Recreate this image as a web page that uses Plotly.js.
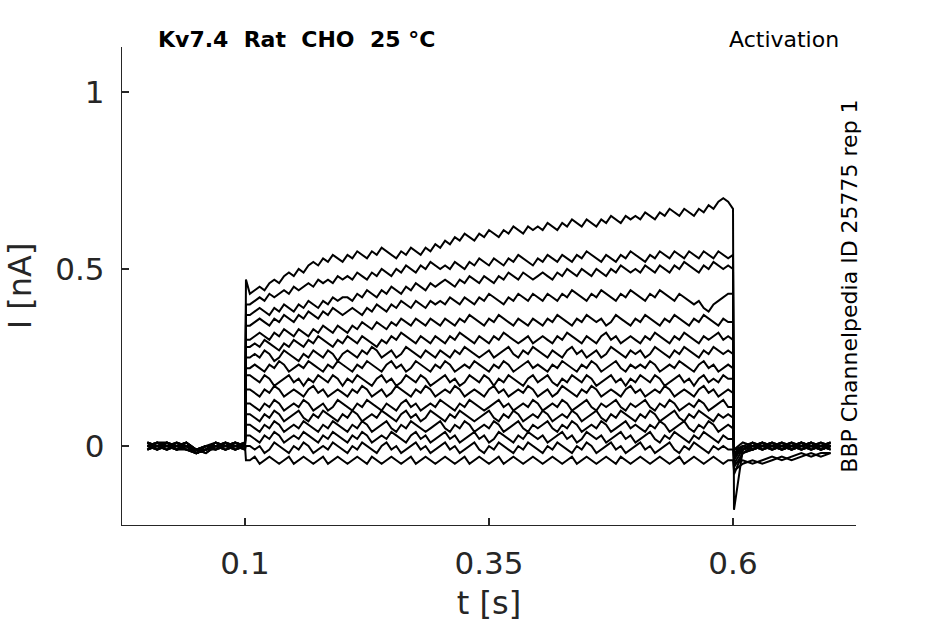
<!DOCTYPE html>
<html>
<head>
<meta charset="utf-8">
<script src="https://cdn.plot.ly/plotly-3.0.1.min.js"></script>
<style>html,body{margin:0;padding:0;background:#fff;}#chart{width:945px;height:624px;}</style>
</head>
<body>
<div id="chart"></div>
<script>
// time samples (s)
const tPre = [0.00,0.01,0.02,0.03,0.04,0.05,0.06,0.07,0.08,0.09,0.10];
const tOn = 0.101;
const tStep = [
  0.105,0.110,0.115,0.120,0.125,0.130,0.135,0.140,0.145,0.150,0.155,0.160,0.165,0.170,0.175,0.180,0.185,0.190,0.195,0.200,
  0.205,0.210,0.215,0.220,0.225,0.230,0.235,0.240,0.245,0.250,0.255,0.260,0.265,0.270,0.275,0.280,0.285,0.290,0.295,0.300,
  0.305,0.310,0.315,0.320,0.325,0.330,0.335,0.340,0.345,0.350,0.355,0.360,0.365,0.370,0.375,0.380,0.385,0.390,0.395,0.400,
  0.405,0.410,0.415,0.420,0.425,0.430,0.435,0.440,0.445,0.450,0.455,0.460,0.465,0.470,0.475,0.480,0.485,0.490,0.495,0.500,
  0.505,0.510,0.515,0.520,0.525,0.530,0.535,0.540,0.545,0.550,0.555,0.560,0.565,0.570,0.575,0.580,0.585,0.590,0.595];
const tOff = 0.60;
const tOffNext = 0.601;
const tTail = [0.61,0.62,0.63,0.64,0.65,0.66,0.67,0.68,0.69,0.70];

// current (nA) before the step
const preStep = [
  [0.00,0.01,0.00,-0.01,0.00,-0.02,-0.01,0.00,0.01,0.00,0.00],
  [0.01,0.00,-0.01,0.00,0.01,-0.01,0.00,-0.01,0.00,0.01,0.00],
  [-0.01,0.00,0.01,0.00,-0.01,-0.02,-0.01,0.01,0.00,-0.01,0.00],
  [0.00,-0.01,0.00,0.01,0.00,-0.02,0.00,0.00,-0.01,0.00,0.01],
  [0.01,0.00,0.00,-0.01,0.00,-0.01,-0.02,0.00,0.01,0.00,0.00],
  [0.00,0.00,0.01,0.00,-0.01,-0.02,-0.01,-0.01,0.00,0.01,0.00],
  [-0.01,0.01,0.00,0.00,0.01,-0.01,0.00,0.00,-0.01,0.00,0.00],
  [0.00,-0.01,0.01,0.00,0.00,-0.02,-0.01,0.01,0.00,0.00,-0.01],
  [0.01,0.00,-0.01,0.01,0.00,-0.01,0.00,0.00,0.01,-0.01,0.00],
  [0.00,0.01,0.00,-0.01,-0.01,-0.02,-0.01,0.00,0.00,0.01,0.00],
  [-0.01,0.00,0.00,0.01,0.00,-0.01,-0.01,0.01,0.00,0.00,0.01],
  [0.00,0.00,-0.01,0.00,0.01,-0.02,0.00,-0.01,0.01,0.00,0.00],
  [0.01,-0.01,0.00,0.00,-0.01,-0.01,-0.02,0.00,0.00,-0.01,0.00],
  [0.00,0.01,0.01,-0.01,0.00,-0.02,-0.01,0.00,-0.01,0.00,0.00],
  [-0.01,0.00,0.00,0.00,0.01,-0.01,0.00,0.01,0.00,0.00,-0.01],
  [0.00,0.00,0.01,-0.01,0.00,-0.02,-0.01,0.00,0.00,0.01,0.00]
];

// current at step onset (t = 0.101)
const onset = [0.47,0.40,0.37,0.34,0.30,0.28,0.25,0.22,0.20,0.16,0.12,0.09,0.06,0.03,0.00,-0.04];

// current during the step (t = 0.105 .. 0.595)
const stepVals = [
  [0.43,0.44,0.45,0.44,0.46,0.47,0.46,0.48,0.49,0.48,0.50,0.49,0.51,0.52,0.51,0.53,0.52,0.54,0.53,0.52,
   0.54,0.53,0.55,0.54,0.53,0.55,0.54,0.56,0.55,0.54,0.53,0.55,0.54,0.56,0.55,0.54,0.56,0.55,0.57,0.56,
   0.58,0.57,0.59,0.58,0.60,0.59,0.58,0.60,0.59,0.61,0.60,0.59,0.61,0.60,0.62,0.61,0.60,0.62,0.61,0.62,
   0.61,0.63,0.62,0.61,0.63,0.62,0.64,0.63,0.62,0.64,0.63,0.62,0.64,0.63,0.65,0.64,0.63,0.65,0.64,0.65,
   0.64,0.66,0.65,0.64,0.66,0.65,0.67,0.66,0.65,0.67,0.66,0.65,0.67,0.66,0.68,0.67,0.69,0.70,0.69],
  [0.40,0.41,0.42,0.41,0.43,0.42,0.43,0.44,0.43,0.45,0.44,0.45,0.46,0.45,0.47,0.46,0.47,0.46,0.48,0.47,
   0.48,0.47,0.49,0.48,0.47,0.49,0.48,0.50,0.49,0.48,0.50,0.49,0.51,0.50,0.49,0.51,0.50,0.52,0.51,0.50,
   0.51,0.50,0.52,0.51,0.50,0.52,0.51,0.53,0.52,0.51,0.53,0.52,0.51,0.53,0.52,0.54,0.53,0.52,0.51,0.53,
   0.52,0.54,0.53,0.52,0.54,0.53,0.52,0.54,0.53,0.55,0.54,0.53,0.52,0.54,0.53,0.52,0.54,0.53,0.55,0.54,
   0.53,0.52,0.54,0.53,0.55,0.54,0.53,0.55,0.54,0.53,0.55,0.54,0.53,0.55,0.54,0.53,0.55,0.54,0.53],
  [0.37,0.38,0.39,0.38,0.37,0.39,0.38,0.40,0.39,0.38,0.40,0.39,0.41,0.40,0.39,0.41,0.40,0.42,0.41,0.42,
   0.42,0.41,0.43,0.42,0.44,0.43,0.42,0.44,0.43,0.45,0.44,0.43,0.45,0.44,0.46,0.45,0.44,0.46,0.45,0.46,
   0.47,0.46,0.45,0.47,0.46,0.48,0.47,0.46,0.48,0.47,0.46,0.48,0.47,0.49,0.48,0.47,0.49,0.48,0.47,0.48,
   0.49,0.48,0.47,0.49,0.48,0.50,0.49,0.48,0.50,0.49,0.48,0.50,0.49,0.48,0.50,0.49,0.51,0.50,0.49,0.50,
   0.49,0.51,0.50,0.49,0.51,0.50,0.49,0.51,0.50,0.52,0.51,0.50,0.49,0.51,0.50,0.52,0.51,0.50,0.51],
  [0.34,0.35,0.36,0.35,0.34,0.36,0.35,0.37,0.36,0.35,0.37,0.36,0.38,0.37,0.36,0.38,0.37,0.39,0.38,0.37,
   0.38,0.39,0.38,0.37,0.39,0.38,0.40,0.39,0.38,0.40,0.39,0.41,0.40,0.39,0.41,0.40,0.39,0.41,0.40,0.41,
   0.40,0.42,0.41,0.40,0.42,0.41,0.40,0.42,0.41,0.43,0.42,0.41,0.40,0.42,0.41,0.43,0.42,0.41,0.43,0.42,
   0.41,0.43,0.42,0.41,0.43,0.42,0.44,0.43,0.42,0.41,0.43,0.42,0.44,0.43,0.42,0.41,0.43,0.42,0.44,0.43,
   0.42,0.41,0.43,0.42,0.44,0.43,0.42,0.41,0.43,0.42,0.41,0.40,0.41,0.39,0.38,0.40,0.41,0.42,0.43],
  [0.30,0.31,0.32,0.31,0.30,0.32,0.31,0.33,0.32,0.31,0.33,0.32,0.31,0.33,0.32,0.34,0.33,0.32,0.34,0.33,
   0.32,0.34,0.33,0.35,0.34,0.33,0.35,0.34,0.33,0.35,0.34,0.36,0.35,0.34,0.36,0.35,0.34,0.36,0.35,0.34,
   0.36,0.35,0.34,0.36,0.35,0.37,0.36,0.35,0.34,0.36,0.35,0.37,0.36,0.35,0.34,0.36,0.35,0.34,0.36,0.35,
   0.34,0.36,0.35,0.37,0.36,0.35,0.34,0.36,0.35,0.37,0.36,0.35,0.36,0.34,0.35,0.37,0.36,0.35,0.34,0.36,
   0.35,0.37,0.36,0.35,0.34,0.36,0.35,0.37,0.36,0.35,0.34,0.36,0.35,0.37,0.36,0.35,0.34,0.36,0.35],
  [0.28,0.29,0.28,0.30,0.29,0.28,0.27,0.29,0.28,0.30,0.29,0.28,0.30,0.29,0.31,0.30,0.29,0.28,0.30,0.29,
   0.31,0.30,0.29,0.31,0.30,0.29,0.28,0.30,0.29,0.31,0.30,0.32,0.31,0.30,0.29,0.31,0.30,0.29,0.31,0.30,
   0.29,0.31,0.30,0.32,0.31,0.30,0.29,0.31,0.30,0.29,0.31,0.30,0.32,0.31,0.30,0.29,0.30,0.31,0.29,0.30,
   0.31,0.30,0.29,0.31,0.30,0.32,0.31,0.30,0.29,0.31,0.30,0.29,0.31,0.32,0.30,0.31,0.29,0.30,0.31,0.30,
   0.29,0.31,0.30,0.32,0.31,0.30,0.29,0.31,0.30,0.32,0.31,0.30,0.29,0.31,0.30,0.31,0.32,0.30,0.31],
  [0.25,0.26,0.25,0.27,0.26,0.24,0.25,0.27,0.26,0.25,0.24,0.26,0.25,0.27,0.26,0.25,0.27,0.26,0.24,0.26,
   0.27,0.26,0.25,0.27,0.26,0.28,0.27,0.25,0.26,0.27,0.25,0.26,0.28,0.27,0.26,0.25,0.27,0.26,0.25,0.27,
   0.26,0.25,0.27,0.26,0.28,0.27,0.26,0.25,0.26,0.27,0.25,0.26,0.27,0.28,0.26,0.25,0.27,0.26,0.28,0.27,
   0.26,0.25,0.27,0.26,0.25,0.27,0.28,0.26,0.27,0.25,0.26,0.27,0.25,0.26,0.28,0.27,0.26,0.25,0.27,0.26,
   0.27,0.25,0.26,0.28,0.27,0.26,0.25,0.27,0.26,0.28,0.27,0.26,0.25,0.27,0.26,0.28,0.27,0.26,0.27],
  [0.22,0.23,0.22,0.21,0.23,0.22,0.24,0.23,0.21,0.22,0.23,0.22,0.24,0.23,0.22,0.21,0.23,0.22,0.24,0.23,
   0.22,0.21,0.23,0.22,0.24,0.23,0.22,0.21,0.23,0.24,0.22,0.23,0.21,0.22,0.24,0.23,0.22,0.21,0.23,0.22,
   0.24,0.23,0.21,0.22,0.23,0.22,0.24,0.23,0.22,0.21,0.23,0.22,0.24,0.23,0.21,0.22,0.23,0.24,0.22,0.23,
   0.22,0.21,0.23,0.22,0.24,0.23,0.22,0.21,0.23,0.22,0.24,0.23,0.21,0.22,0.23,0.24,0.22,0.21,0.23,0.22,
   0.23,0.22,0.24,0.23,0.21,0.22,0.23,0.22,0.24,0.23,0.22,0.21,0.23,0.24,0.22,0.23,0.21,0.22,0.23],
  [0.20,0.19,0.18,0.20,0.19,0.17,0.18,0.19,0.20,0.18,0.19,0.17,0.19,0.18,0.20,0.19,0.18,0.20,0.19,0.17,
   0.19,0.18,0.20,0.19,0.18,0.17,0.19,0.20,0.18,0.19,0.17,0.18,0.20,0.19,0.18,0.20,0.19,0.17,0.18,0.19,
   0.20,0.18,0.19,0.17,0.18,0.20,0.19,0.18,0.20,0.19,0.17,0.19,0.18,0.20,0.19,0.18,0.17,0.19,0.20,0.18,
   0.19,0.20,0.18,0.17,0.19,0.18,0.20,0.19,0.18,0.20,0.19,0.17,0.18,0.19,0.20,0.18,0.19,0.17,0.19,0.18,
   0.20,0.19,0.18,0.20,0.19,0.17,0.18,0.19,0.20,0.18,0.19,0.17,0.19,0.20,0.18,0.19,0.18,0.20,0.19],
  [0.16,0.15,0.14,0.16,0.15,0.17,0.16,0.14,0.15,0.16,0.15,0.14,0.16,0.17,0.15,0.16,0.14,0.15,0.16,0.15,
   0.14,0.16,0.15,0.17,0.16,0.14,0.15,0.16,0.14,0.15,0.17,0.16,0.15,0.14,0.16,0.15,0.17,0.16,0.14,0.15,
   0.16,0.15,0.17,0.16,0.14,0.15,0.16,0.15,0.14,0.16,0.17,0.15,0.16,0.14,0.15,0.16,0.15,0.17,0.16,0.14,
   0.15,0.16,0.14,0.15,0.17,0.16,0.15,0.14,0.16,0.15,0.17,0.16,0.14,0.15,0.16,0.15,0.14,0.16,0.17,0.15,
   0.16,0.14,0.15,0.16,0.15,0.17,0.16,0.14,0.15,0.16,0.15,0.14,0.16,0.17,0.15,0.16,0.14,0.15,0.16],
  [0.12,0.11,0.10,0.12,0.11,0.13,0.12,0.10,0.11,0.12,0.11,0.13,0.12,0.10,0.11,0.12,0.10,0.11,0.13,0.12,
   0.11,0.10,0.12,0.11,0.13,0.12,0.11,0.10,0.12,0.11,0.10,0.12,0.13,0.11,0.12,0.10,0.11,0.12,0.11,0.13,
   0.12,0.11,0.10,0.12,0.11,0.13,0.12,0.11,0.10,0.11,0.12,0.13,0.11,0.12,0.10,0.11,0.12,0.11,0.13,0.12,
   0.10,0.11,0.12,0.11,0.13,0.12,0.10,0.11,0.12,0.13,0.11,0.10,0.12,0.11,0.12,0.13,0.11,0.10,0.12,0.11,
   0.12,0.13,0.11,0.10,0.12,0.11,0.13,0.12,0.10,0.11,0.12,0.11,0.13,0.12,0.10,0.11,0.12,0.13,0.11],
  [0.09,0.08,0.07,0.09,0.08,0.10,0.09,0.07,0.08,0.09,0.10,0.08,0.07,0.09,0.08,0.10,0.09,0.08,0.07,0.09,
   0.08,0.10,0.09,0.07,0.08,0.09,0.08,0.10,0.09,0.08,0.07,0.09,0.10,0.08,0.09,0.07,0.08,0.10,0.09,0.08,
   0.07,0.09,0.08,0.10,0.09,0.08,0.07,0.08,0.09,0.10,0.08,0.07,0.09,0.08,0.10,0.09,0.07,0.08,0.09,0.08,
   0.10,0.09,0.07,0.08,0.09,0.08,0.10,0.09,0.07,0.08,0.09,0.10,0.08,0.07,0.09,0.08,0.10,0.09,0.08,0.07,
   0.09,0.08,0.10,0.09,0.07,0.08,0.09,0.10,0.08,0.07,0.09,0.08,0.10,0.09,0.08,0.07,0.09,0.08,0.09],
  [0.06,0.05,0.04,0.06,0.05,0.07,0.06,0.04,0.05,0.06,0.05,0.07,0.06,0.05,0.04,0.06,0.05,0.07,0.06,0.05,
   0.04,0.06,0.05,0.07,0.06,0.04,0.05,0.06,0.07,0.05,0.04,0.06,0.05,0.07,0.06,0.05,0.04,0.05,0.06,0.07,
   0.05,0.04,0.06,0.05,0.07,0.06,0.04,0.05,0.06,0.05,0.07,0.06,0.04,0.05,0.06,0.07,0.05,0.04,0.06,0.05,
   0.06,0.07,0.05,0.04,0.06,0.05,0.07,0.06,0.04,0.05,0.06,0.05,0.07,0.06,0.04,0.05,0.06,0.07,0.05,0.06,
   0.05,0.04,0.06,0.05,0.07,0.06,0.04,0.05,0.06,0.07,0.05,0.04,0.06,0.05,0.07,0.06,0.04,0.05,0.06],
  [0.03,0.02,0.01,0.03,0.02,0.04,0.03,0.01,0.02,0.03,0.02,0.04,0.03,0.02,0.01,0.03,0.02,0.04,0.03,0.02,
   0.01,0.03,0.02,0.04,0.03,0.01,0.02,0.03,0.02,0.04,0.03,0.02,0.01,0.03,0.04,0.02,0.03,0.01,0.02,0.03,
   0.04,0.02,0.03,0.01,0.02,0.03,0.04,0.02,0.03,0.01,0.02,0.04,0.03,0.02,0.01,0.03,0.02,0.04,0.03,0.02,
   0.03,0.01,0.02,0.03,0.04,0.02,0.03,0.01,0.02,0.04,0.03,0.02,0.03,0.01,0.02,0.03,0.04,0.02,0.03,0.01,
   0.02,0.03,0.04,0.02,0.01,0.03,0.02,0.04,0.03,0.02,0.01,0.03,0.02,0.04,0.03,0.02,0.01,0.03,0.02],
  [0.00,-0.01,0.00,-0.02,-0.01,0.01,0.00,-0.01,-0.02,0.00,-0.01,0.01,0.00,-0.02,-0.01,0.00,-0.01,0.01,0.00,-0.01,
   -0.02,0.00,-0.01,0.01,0.00,-0.01,-0.02,0.00,0.01,-0.01,0.00,-0.02,-0.01,0.00,0.01,-0.01,0.00,-0.02,-0.01,0.00,
   0.01,-0.01,0.00,-0.02,-0.01,0.00,0.01,-0.01,-0.02,0.00,-0.01,0.01,0.00,-0.01,-0.02,0.00,-0.01,0.01,0.00,-0.01,
   -0.02,0.00,-0.01,0.01,0.00,-0.01,-0.02,0.00,-0.01,0.01,0.00,-0.02,-0.01,0.00,0.01,-0.01,0.00,-0.02,-0.01,0.00,
   0.01,-0.01,0.00,-0.02,-0.01,0.00,0.01,-0.01,-0.02,0.00,-0.01,0.01,0.00,-0.01,-0.02,0.00,-0.01,0.00,-0.01],
  [-0.04,-0.03,-0.05,-0.04,-0.03,-0.04,-0.05,-0.04,-0.03,-0.05,-0.04,-0.03,-0.04,-0.05,-0.04,-0.03,-0.05,-0.04,-0.03,-0.04,
   -0.05,-0.04,-0.03,-0.04,-0.05,-0.03,-0.04,-0.05,-0.04,-0.03,-0.04,-0.05,-0.04,-0.03,-0.05,-0.04,-0.03,-0.04,-0.05,-0.04,
   -0.03,-0.04,-0.05,-0.04,-0.03,-0.05,-0.04,-0.03,-0.04,-0.05,-0.04,-0.03,-0.05,-0.04,-0.03,-0.04,-0.05,-0.04,-0.03,-0.04,
   -0.05,-0.04,-0.03,-0.04,-0.05,-0.04,-0.03,-0.05,-0.04,-0.03,-0.04,-0.05,-0.04,-0.03,-0.04,-0.05,-0.03,-0.04,-0.05,-0.04,
   -0.03,-0.04,-0.05,-0.04,-0.03,-0.04,-0.05,-0.04,-0.03,-0.05,-0.04,-0.03,-0.04,-0.05,-0.04,-0.03,-0.04,-0.05,-0.04]
];

// current at step end (t = 0.60)
const offset = [0.67,0.54,0.50,0.43,0.35,0.30,0.26,0.22,0.19,0.15,0.11,0.08,0.05,0.02,-0.01,-0.04];

// current just after step end (t = 0.601)
const tailStart = [-0.18,-0.08,-0.06,-0.05,-0.04,-0.03,-0.03,-0.02,-0.02,-0.02,-0.01,-0.01,-0.01,-0.02,-0.05,-0.07];

// current after the step (t = 0.61 .. 0.70)
const tail = [
  [-0.01,0.00,0.01,0.00,-0.01,0.00,0.01,0.00,-0.01,0.00],
  [-0.02,-0.01,0.00,0.01,0.00,-0.01,0.00,0.01,0.00,-0.01],
  [-0.02,0.00,-0.01,0.00,0.01,0.00,-0.01,0.00,0.00,0.01],
  [-0.01,0.00,0.01,-0.01,0.00,0.01,0.00,-0.01,0.00,0.00],
  [0.00,-0.01,0.00,0.01,0.00,-0.01,0.01,0.00,-0.01,0.00],
  [-0.01,0.01,0.00,-0.01,0.00,0.00,0.01,-0.01,0.00,0.01],
  [0.00,-0.01,0.00,0.00,0.01,-0.01,0.00,0.01,0.00,-0.01],
  [-0.01,0.00,0.01,0.00,-0.01,0.00,0.00,0.01,-0.01,0.00],
  [0.00,0.01,-0.01,0.00,0.00,0.01,-0.01,0.00,0.01,0.00],
  [-0.01,0.00,0.00,0.01,-0.01,0.00,0.01,0.00,0.00,-0.01],
  [0.00,-0.01,0.01,0.00,0.00,-0.01,0.00,0.01,-0.01,0.00],
  [0.01,0.00,-0.01,0.00,0.01,0.00,-0.01,0.00,0.01,0.00],
  [-0.01,0.01,0.00,-0.01,0.00,0.01,0.00,-0.01,0.00,0.01],
  [-0.02,-0.01,0.00,0.00,-0.01,0.00,0.01,0.00,-0.01,0.00],
  [-0.04,-0.05,-0.04,-0.03,-0.04,-0.03,-0.02,-0.03,-0.02,-0.02],
  [-0.05,-0.04,-0.05,-0.04,-0.03,-0.04,-0.03,-0.02,-0.03,-0.02]
];

const titleText = 'Kv7.4  Rat  CHO  25 °C';
const protocolText = 'Activation';
const sourceText = 'BBP Channelpedia ID 25775 rep 1';
const xTicks = [0.1, 0.35, 0.6];
const xTickText = ['0.1', '0.35', '0.6'];
const yTicks = [0, 0.5, 1];
const yTickText = ['0', '0.5', '1'];

const tAll = [].concat(tPre, [tOn], tStep, [tOff, tOffNext], tTail);
const traces = preStep.map((pre, i) => ({
  type: 'scatter', mode: 'lines',
  x: tAll,
  y: [].concat(pre, [onset[i]], stepVals[i], [offset[i], tailStart[i]], tail[i]),
  line: {color: '#000000', width: 2},
  hoverinfo: 'skip', showlegend: false
}));

const axisColor = '#262626';
const layout = {
  width: 945, height: 624,
  paper_bgcolor: '#ffffff', plot_bgcolor: '#ffffff',
  font: {family: 'DejaVu Sans', color: axisColor},
  margin: {l: 122, r: 89, t: 47, b: 99, pad: 0},
  showlegend: false,
  xaxis: {
    range: [-0.026, 0.726], showgrid: false, zeroline: false,
    showline: true, linecolor: axisColor, linewidth: 1.3,
    ticks: 'inside', ticklen: 7, tickwidth: 1.3, tickcolor: axisColor,
    tickvals: xTicks, ticktext: xTickText,
    tickfont: {size: 31, color: axisColor},
    ticklabelstandoff: 10,
    title: {text: 't [s]', font: {size: 32, color: axisColor}, standoff: 12},
    automargin: false
  },
  yaxis: {
    range: [-0.223, 1.127], showgrid: false, zeroline: false,
    showline: true, linecolor: axisColor, linewidth: 1.3,
    ticks: 'inside', ticklen: 7, tickwidth: 1.3, tickcolor: axisColor,
    tickvals: yTicks, ticktext: yTickText,
    tickfont: {size: 31, color: axisColor},
    ticklabelstandoff: 10,
    title: {text: 'I [nA]', font: {size: 32, color: axisColor}, standoff: 14},
    automargin: false
  },
  annotations: [
    {text: '<b>' + titleText + '</b>', xref: 'paper', yref: 'paper', x: 0.046, y: 1.015,
     xanchor: 'left', yanchor: 'middle', showarrow: false, font: {size: 22, color: '#000000'}},
    {text: protocolText, xref: 'paper', yref: 'paper', x: 0.98, y: 1.015,
     xanchor: 'right', yanchor: 'middle', showarrow: false, font: {size: 22, color: '#000000'}},
    {text: sourceText, xref: 'paper', yref: 'paper', x: 0.99, y: 0.5,
     xanchor: 'center', yanchor: 'middle', textangle: -90, showarrow: false, font: {size: 22, color: '#000000'}}
  ]
};

Plotly.newPlot('chart', traces, layout, {displayModeBar: false, staticPlot: true});
</script>
</body>
</html>
